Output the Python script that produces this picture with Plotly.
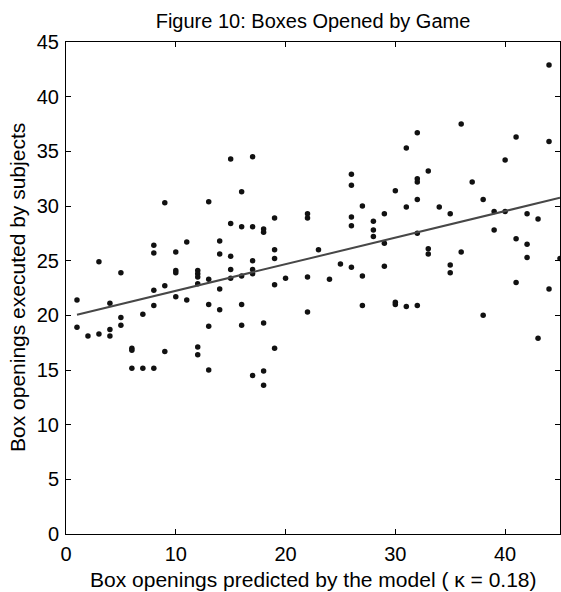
import plotly.graph_objects as go

# Predicted box openings (model) and observed openings (subjects)
x_pred = [1, 1, 2, 3, 3, 4, 4, 4, 5, 5, 5, 6, 6, 6, 7, 7,
          8, 8, 8, 8, 8, 9, 9, 9, 10, 10, 10, 10, 11, 11,
          12, 12, 12, 12, 12, 12, 13, 13, 13, 13, 13, 14, 14, 14, 14,
          15, 15, 15, 15, 15, 16, 16, 16, 16, 16, 17, 17, 17, 17, 17, 17,
          18, 18, 18, 18, 18, 19, 19, 19, 19, 19, 20,
          22, 22, 22, 22, 23, 24, 25, 26, 26, 26, 26, 26, 27, 27, 27,
          28, 28, 28, 29, 29, 29, 30, 30, 30, 31, 31, 31,
          32, 32, 32, 32, 32, 32, 33, 33, 33, 34, 35, 35, 35, 36, 36, 37,
          38, 38, 39, 39, 40, 40, 41, 41, 41, 42, 42, 42, 43, 43,
          44, 44, 44, 45]
y_obs = [21.4, 18.9, 18.1, 24.9, 18.3, 21.1, 18.7, 18.1, 23.9, 19.8, 19.1, 17.0, 16.8, 15.15, 20.1, 15.15,
         26.4, 25.7, 22.3, 20.9, 15.15, 30.3, 22.7, 16.7, 25.8, 24.1, 23.9, 21.7, 26.7, 21.4,
         24.1, 23.8, 23.5, 22.9, 17.1, 16.4, 30.4, 23.3, 21.0, 19.0, 15.0, 26.8, 25.6, 22.4, 20.5,
         34.3, 28.4, 25.4, 24.2, 23.4, 31.3, 28.1, 23.6, 21.0, 19.1, 34.5, 28.1, 25.0, 24.2, 23.8, 14.5,
         27.9, 27.6, 19.3, 14.9, 13.6, 28.9, 26.0, 25.2, 22.8, 17.0, 23.4,
         29.3, 28.9, 23.5, 20.3, 26.0, 23.3, 24.7, 32.9, 31.9, 29.0, 28.2, 24.4, 30.0, 23.6, 20.9,
         28.6, 27.8, 27.2, 29.3, 26.6, 24.5, 31.4, 21.2, 21.0, 35.3, 29.9, 20.8,
         36.7, 32.5, 32.2, 30.6, 27.5, 20.9, 33.2, 26.1, 25.6, 29.9, 29.3, 24.6, 23.9, 37.5, 25.8, 32.2,
         30.6, 20.0, 29.5, 27.8, 34.2, 29.5, 36.3, 27.0, 23.0, 29.3, 26.5, 25.3, 28.8, 17.9,
         42.9, 35.9, 22.4, 25.2]

# Fitted line
fit_x = [1, 45]
fit_y = [20.06, 30.75]

x_ticks = [0, 10, 20, 30, 40]
y_ticks = [0, 5, 10, 15, 20, 25, 30, 35, 40, 45]

FONT = "Liberation Sans, Arial, sans-serif"
FS_TICK = 20
FS_LABEL = 21
FS_TITLE = 20

fig = go.Figure()
fig.add_trace(go.Scatter(x=x_pred, y=y_obs, mode="markers",
                         marker=dict(color="#111111", size=5.5),
                         cliponaxis=False, showlegend=False))
fig.add_trace(go.Scatter(x=fit_x, y=fit_y, mode="lines",
                         line=dict(color="#474747", width=2),
                         showlegend=False))

axis_common = dict(showline=True, linecolor="black", linewidth=1, mirror="ticks",
                   ticks="inside", ticklen=5, tickcolor="black", showgrid=False,
                   zeroline=False, tickfont=dict(family=FONT, size=FS_TICK, color="black"))

fig.update_layout(
    width=561, height=592,
    margin=dict(l=66, r=1, t=42, b=58),
    paper_bgcolor="white", plot_bgcolor="white",
    xaxis=dict(range=[0, 45], tickvals=x_ticks, ticklabelstandoff=2, **axis_common),
    yaxis=dict(range=[0, 45], tickvals=y_ticks, ticklabelstandoff=2, **axis_common),
    title=dict(text="Figure 10: Boxes Opened by Game", x=0.5, xref="paper",
               y=1 - 21 / 592, yref="container", yanchor="middle",
               font=dict(family=FONT, size=FS_TITLE, color="black")),
    annotations=[
        dict(text="Box openings predicted by the model ( \u03ba = 0.18)",
             xref="paper", yref="paper", x=0.5, y=(534 - 579) / 492,
             xanchor="center", yanchor="middle", showarrow=False,
             font=dict(family=FONT, size=FS_LABEL, color="black")),
        dict(text="Box openings executed by subjects",
             xref="paper", yref="paper", x=(17 - 66) / 494, y=0.5,
             xanchor="center", yanchor="middle", textangle=-90, showarrow=False,
             font=dict(family=FONT, size=FS_LABEL, color="black")),
    ],
)

fig.write_html("out.html")
